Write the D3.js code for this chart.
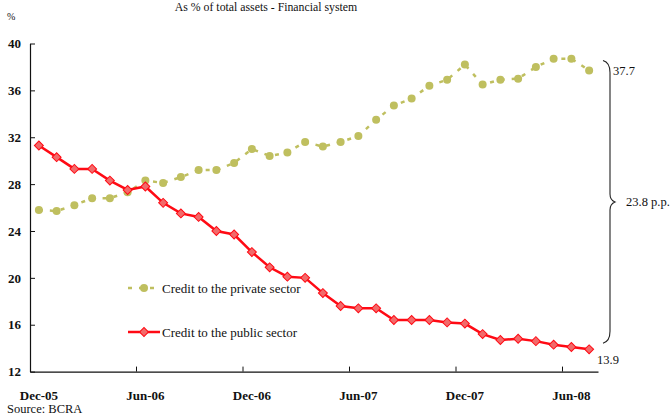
<!DOCTYPE html>
<html>
<head>
<meta charset="utf-8">
<script src="https://cdn.jsdelivr.net/npm/d3@7"></script>
<style>
  body { margin: 0; background: #fff; }
  svg { display: block; }
</style>
</head>
<body>
<svg id="chart" width="670" height="415"></svg>
<script>
// Monthly observations, Dec-05 to Jul-08
const months = [
  "Dec-05","Jan-06","Feb-06","Mar-06","Apr-06","May-06","Jun-06","Jul-06","Aug-06","Sep-06","Oct-06","Nov-06",
  "Dec-06","Jan-07","Feb-07","Mar-07","Apr-07","May-07","Jun-07","Jul-07","Aug-07","Sep-07","Oct-07","Nov-07",
  "Dec-07","Jan-08","Feb-08","Mar-08","Apr-08","May-08","Jun-08","Jul-08"
];
// Credit to the private sector, % of total assets
const privateCredit = [
  25.8, 25.7, 26.2, 26.8, 26.8, 27.3, 28.3, 28.1, 28.6, 29.2, 29.2, 29.8,
  31.0, 30.4, 30.7, 31.6, 31.2, 31.6, 32.1, 33.5, 34.7, 35.3, 36.4, 36.9,
  38.2, 36.5, 36.9, 37.0, 38.0, 38.7, 38.7, 37.7
];
// Credit to the public sector, % of total assets
const publicCredit = [
  31.3, 30.3, 29.3, 29.3, 28.3, 27.5, 27.8, 26.4, 25.5, 25.2, 24.0, 23.7,
  22.2, 20.9, 20.1, 20.0, 18.7, 17.6, 17.4, 17.4, 16.4, 16.4, 16.4, 16.2,
  16.1, 15.2, 14.7, 14.8, 14.6, 14.3, 14.1, 13.9
];
const yTicks = [12, 16, 20, 24, 28, 32, 36, 40];
const xLabels = ["Dec-05", "Jun-06", "Dec-06", "Jun-07", "Dec-07", "Jun-08"];
const seriesNames = ["Credit to the private sector", "Credit to the public sector"];

const FONT = "Liberation Serif";
const INK = "#111";
const GREEN = "#bfbf5f";
const RED = "#ff0a14";
const DIAMOND_FILL = "#f26a6a";

const svg = d3.select("#chart").attr("font-family", FONT);

const x = d3.scaleBand().domain(months).range([30, 598]).padding(0);
const cx = m => x(m) + x.bandwidth() / 2;
const y = d3.scaleLinear().domain([12, 40]).range([371.6, 43.5]);

function label(sel, px, py, txt, size, extra) {
  const t = sel.append("text").attr("x", px).attr("y", py)
    .attr("font-family", FONT).attr("font-size", size).attr("fill", INK).text(txt);
  if (extra) extra(t);
  return t;
}

// Title and unit
label(svg, 266, 10.5, "As % of total assets - Financial system", 11.8, t => t.attr("text-anchor", "middle"));
label(svg, 7, 20, "%", 10);

// Y axis
const yAxis = svg.append("g").attr("transform", "translate(30,0)")
  .call(d3.axisLeft(y).tickValues(yTicks).tickSizeInner(-5).tickSizeOuter(0).tickPadding(9));
yAxis.attr("font-family", FONT).attr("font-size", 13);
yAxis.select(".domain").attr("stroke", INK).attr("stroke-width", 1.2);
yAxis.selectAll(".tick line").attr("stroke", INK);
yAxis.selectAll(".tick text").attr("fill", INK).attr("font-weight", "bold");

// X axis: labels centred on categories, tick marks on category boundaries
const xAxis = svg.append("g").attr("transform", `translate(0,${y(12)})`)
  .call(d3.axisBottom(x).tickValues(xLabels).tickSize(0).tickPadding(19));
xAxis.attr("font-family", FONT).attr("font-size", 13);
xAxis.select(".domain").attr("stroke", INK).attr("stroke-width", 1.2);
xAxis.selectAll(".tick text").attr("fill", INK).attr("font-weight", "bold");
xAxis.selectAll(".tickmark").data(xLabels.slice(1)).enter().append("line")
  .attr("x1", d => x(d)).attr("x2", d => x(d)).attr("y1", 0).attr("y2", -5)
  .attr("stroke", INK).attr("stroke-width", 1);

// Private sector: dashed line with round markers
const line = d3.line().x((d, i) => cx(months[i])).y(d => y(d));
svg.append("path").datum(privateCredit).attr("d", line)
  .attr("fill", "none").attr("stroke", GREEN).attr("stroke-width", 2.5)
  .attr("stroke-dasharray", "4,7");
svg.append("g").selectAll("circle").data(privateCredit).enter().append("circle")
  .attr("cx", (d, i) => cx(months[i])).attr("cy", d => y(d)).attr("r", 4)
  .attr("fill", GREEN);

// Public sector: solid line with diamond markers
svg.append("path").datum(publicCredit).attr("d", line)
  .attr("fill", "none").attr("stroke", RED).attr("stroke-width", 2.5);
const diamond = d3.symbol().type(d3.symbolSquare).size(40);
svg.append("g").selectAll("path").data(publicCredit).enter().append("path")
  .attr("d", diamond)
  .attr("transform", (d, i) => `translate(${cx(months[i])},${y(d)}) rotate(45)`)
  .attr("fill", DIAMOND_FILL).attr("stroke", RED).attr("stroke-width", 1);

// Legend
const lg = svg.append("g");
lg.append("line").attr("x1", 128).attr("x2", 160).attr("y1", 288).attr("y2", 288)
  .attr("stroke", GREEN).attr("stroke-width", 2.5).attr("stroke-dasharray", "4,7");
lg.append("circle").attr("cx", 144).attr("cy", 288).attr("r", 4).attr("fill", GREEN);
label(lg, 162, 292.5, seriesNames[0], 13);
lg.append("line").attr("x1", 128).attr("x2", 160).attr("y1", 332).attr("y2", 332)
  .attr("stroke", RED).attr("stroke-width", 2.5);
lg.append("path").attr("d", diamond).attr("transform", "translate(144,332) rotate(45)")
  .attr("fill", DIAMOND_FILL).attr("stroke", RED).attr("stroke-width", 1);
label(lg, 162, 336.5, seriesNames[1], 13);

// Gap between the two series at the last observation
const lastPriv = privateCredit[privateCredit.length - 1];
const lastPub = publicCredit[publicCredit.length - 1];
const gap = (lastPriv - lastPub).toFixed(1);
const braceTop = y(lastPriv) - 10, braceBot = y(lastPub) - 6, braceMid = (braceTop + braceBot) / 2;
const bx = 610;
const brace = d3.path();
brace.moveTo(bx - 7, braceTop);
brace.quadraticCurveTo(bx, braceTop + 2, bx, braceTop + 12);
brace.lineTo(bx, braceMid - 8);
brace.quadraticCurveTo(bx, braceMid - 2, bx + 5, braceMid);
brace.quadraticCurveTo(bx, braceMid + 2, bx, braceMid + 8);
brace.lineTo(bx, braceBot - 12);
brace.quadraticCurveTo(bx, braceBot - 2, bx - 7, braceBot);
svg.append("path").attr("d", brace.toString()).attr("fill", "none")
  .attr("stroke", "#222").attr("stroke-width", 1.1);

label(svg, 613, y(lastPriv) + 5, lastPriv.toFixed(1), 12.5);
label(svg, 626, braceMid + 4.5, gap + " p.p.", 12.5);
label(svg, 597, y(lastPub) + 15, lastPub.toFixed(1), 12.5);

// Source
label(svg, 7, 413, "Source: BCRA", 12.5);
</script>
</body>
</html>
